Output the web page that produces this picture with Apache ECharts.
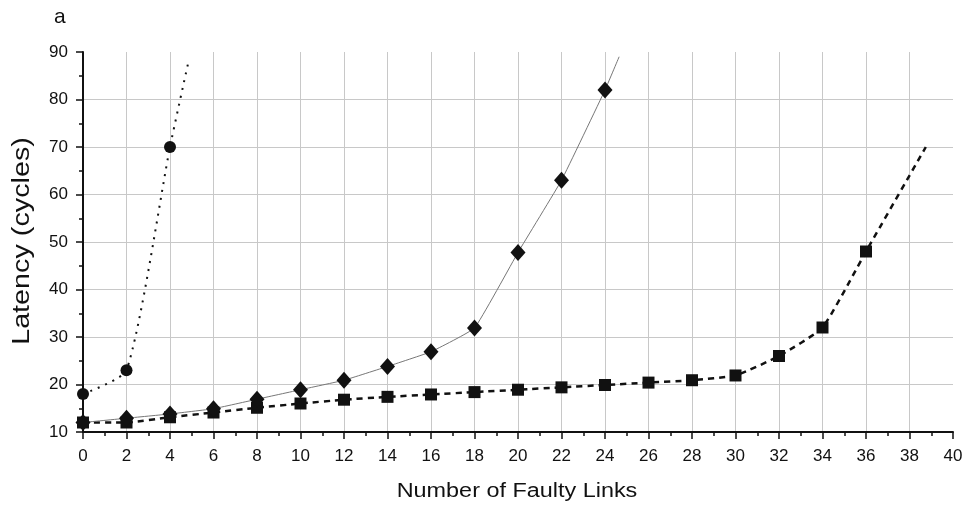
<!DOCTYPE html>
<html>
<head>
<meta charset="utf-8">
<script src="https://cdn.jsdelivr.net/npm/echarts@6/dist/echarts.min.js"></script>
<style>html,body{margin:0;padding:0;background:#fff;}#c{width:969px;height:512px;}</style>
</head>
<body>
<div id="c"></div>
<script>
// Circles (dotted line) - last point is the curve's extension without marker
const circleX = [0, 2, 4, 4.85];
const circleY = [18, 23, 70, 88];
// Diamonds (thin solid grey line)
const diamondX = [0, 2, 4, 6, 8, 10, 12, 14, 16, 18, 20, 22, 24, 24.65];
const diamondY = [12, 12.9, 13.8, 14.9, 16.9, 18.9, 20.9, 23.8, 26.9, 31.9, 47.8, 63, 82, 89];
// Squares (dashed line)
const squareX = [0, 2, 4, 6, 8, 10, 12, 14, 16, 18, 20, 22, 24, 26, 28, 30, 32, 34, 36, 38.75];
const squareY = [12, 12, 13.1, 14.1, 15.1, 16, 16.8, 17.4, 17.9, 18.4, 18.9, 19.4, 19.9, 20.4, 20.9, 21.9, 26, 32, 48, 70];
const xName = 'Number of Faulty Links';
const yName = 'Latency (cycles)';

const font = 'Liberation Sans, Arial, sans-serif';
function pts(xs, ys, lastNoSymbol) {
  return xs.map((x, i) => {
    const p = { value: [x, ys[i]] };
    if (lastNoSymbol && i === xs.length - 1) p.symbol = 'none';
    return p;
  });
}

const chart = echarts.init(document.getElementById('c'), null, { renderer: 'canvas' });
chart.setOption({
  backgroundColor: '#fff',
  animation: false,
  title: { text: 'a', left: 49, top: 2, textStyle: { fontFamily: font, fontSize: 21, fontWeight: 'normal', color: '#111' } },
  grid: { left: 83, right: 16, top: 52, bottom: 80 },
  graphic: [
    { type: 'text', x: 517, y: 491, scaleX: 1.17,
      style: { text: xName, fontFamily: font, fontSize: 20, fill: '#111', align: 'center', verticalAlign: 'middle' } },
    { type: 'text', x: 23, y: 241, rotation: Math.PI / 2, scaleX: 1.25,
      style: { text: yName, fontFamily: font, fontSize: 23, fill: '#111', align: 'center', verticalAlign: 'middle' } }
  ],
  xAxis: {
    type: 'value', min: 0, max: 40, interval: 2,
    axisLine: { lineStyle: { color: '#111', width: 2 } },
    axisTick: { length: 7, lineStyle: { color: '#111', width: 1.5 } },
    minorTick: { show: true, splitNumber: 2, length: 4, lineStyle: { color: '#111', width: 1.5 } },
    axisLabel: { fontFamily: font, fontSize: 17, color: '#111', margin: 16 },
    splitLine: { show: true, showMinLine: false, showMaxLine: false, lineStyle: { color: '#c8c8c8', width: 1 } }
  },
  yAxis: {
    type: 'value', min: 10, max: 90, interval: 10,
    axisLine: { show: true, lineStyle: { color: '#111', width: 2 } },
    axisTick: { show: true, length: 7, lineStyle: { color: '#111', width: 1.5 } },
    minorTick: { show: true, splitNumber: 2, length: 4, lineStyle: { color: '#111', width: 1.5 } },
    axisLabel: { fontFamily: font, fontSize: 17, color: '#111', margin: 15 },
    splitLine: { show: true, showMinLine: false, showMaxLine: false, lineStyle: { color: '#c8c8c8', width: 1 } }
  },
  series: [
    {
      type: 'line', data: pts(squareX, squareY, true), smooth: 0.15,
      symbol: 'rect', symbolSize: 12, itemStyle: { color: '#111' },
      lineStyle: { color: '#111', width: 2.5, type: [6, 5] }, z: 3
    },
    {
      type: 'line', data: pts(diamondX, diamondY, true), smooth: 0.1,
      symbol: 'diamond', symbolSize: [15, 17], itemStyle: { color: '#111' },
      lineStyle: { color: '#777', width: 1 }, z: 4
    },
    {
      type: 'line', data: pts(circleX, circleY, true), smooth: 0.2,
      symbol: 'circle', symbolSize: 12, itemStyle: { color: '#111' },
      lineStyle: { color: '#111', width: 2, type: [2, 6] }, z: 5
    }
  ]
});
</script>
</body>
</html>
